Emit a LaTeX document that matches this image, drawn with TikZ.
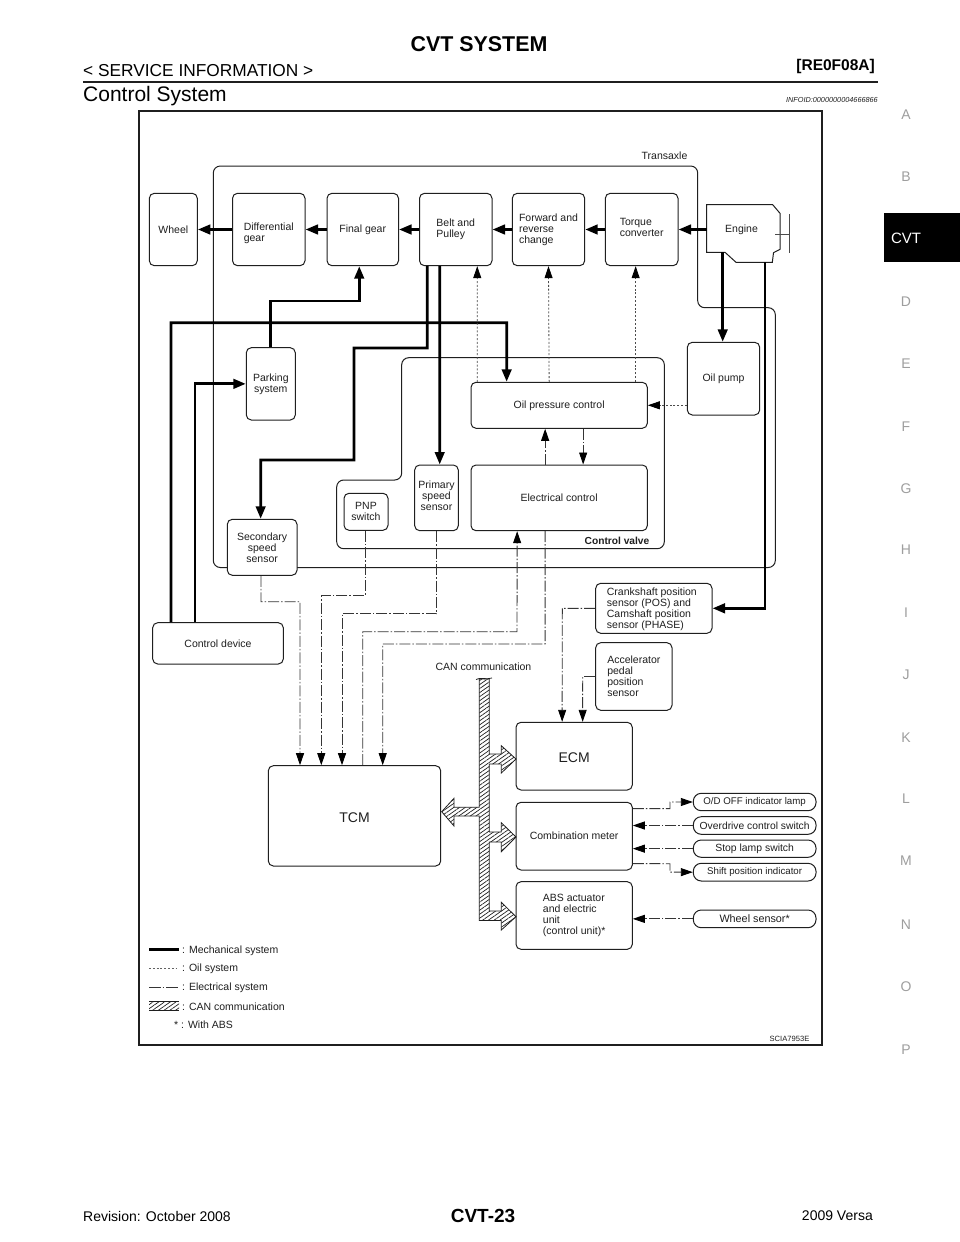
\documentclass[tikz,border=0pt]{standalone}
\usepackage{fontspec}
\setmainfont{Liberation Sans}
\usetikzlibrary{arrows.meta,patterns,patterns.meta}
\definecolor{ink}{gray}{0.12}
\definecolor{tabgray}{gray}{0.62}
\tikzset{
  x=1pt,y=-1pt,
  box/.style={draw=ink,line width=1pt,rounded corners=5pt,fill=white,align=center,inner sep=0pt,font=\fontsize{10.5}{11}\selectfont,text=ink},
  lbox/.style={box,align=left},
  pill/.style={box,rounded corners=8pt,font=\fontsize{9.7}{11}\selectfont},
  bigbox/.style={box,font=\fontsize{14}{16}\selectfont},
  boxtext/.style={inner sep=0pt,text=ink,font=\fontsize{10.5}{11}\selectfont,align=left},
  mech/.style={draw=black,line width=2.8pt,-{Triangle[length=12.5pt,width=9.5pt]}},
  mechplain/.style={draw=black,line width=2.8pt},
  oil/.style={draw=ink!80,line width=0.8pt,dash pattern=on 2pt off 1.8pt,-{Triangle[length=12pt,width=8pt,color=black]}},
  elec/.style={draw=ink!90,line width=0.9pt,dash pattern=on 11pt off 2pt on 1.5pt off 2pt,-{Triangle[length=12pt,width=8pt,color=black]}},
  elecplain/.style={draw=ink!90,line width=0.9pt,dash pattern=on 11pt off 2pt on 1.5pt off 2pt},
  canfill/.style={draw=ink,line width=0.8pt,pattern={Lines[angle=35,distance=3.3pt,line width=0.7pt]},pattern color=ink},
  txt/.style={inner sep=0pt,text=ink,font=\fontsize{10.5}{11}\selectfont,align=left},
  tabletter/.style={inner sep=0pt,text=tabgray,font=\fontsize{14}{16}\selectfont},
}
\newcommand{\bx}[6][box]{\node[#1,minimum width=#5-#3,minimum height=#6-#4] (#2) at ({(#3+#5)/2},{(#4+#6)/2})}
\begin{document}
\begin{tikzpicture}
\useasboundingbox (0,0) rectangle (960,1242);
\fill[white] (0,0) rectangle (960,1242);
% page header
\node[inner sep=0pt,font=\bfseries\fontsize{21.4}{23}\selectfont] (title) at (479,44) {CVT SYSTEM};
\node[inner sep=0pt,anchor=west,font=\fontsize{17.3}{19}\selectfont] (sect) at (83,70.5) {< SERVICE INFORMATION >};
\node[inner sep=0pt,anchor=east,font=\bfseries\fontsize{15.5}{18}\selectfont] (code) at (875,66.5) {[RE0F08A]};
\draw[line width=2.6pt,ink] (83,82) -- (878,82);
\node[inner sep=0pt,anchor=west,font=\fontsize{21}{24}\selectfont] (head) at (83,96.5) {Control System};
\node[inner sep=0pt,anchor=east,font=\itshape\fontsize{7.3}{9}\selectfont,text=ink] (info) at (878,100) {INFOID:0000000004666866};
% side tabs
\foreach \l/\y in {A/115,B/177,D/302,E/364,F/427,G/489,H/550,I/613,J/675,K/738,L/799,M/861,N/925,O/987,P/1050}
  \node[tabletter] (tab\l) at (906,\y) {\l};
\fill[black] (884,213) rectangle (960,262);
\node[inner sep=0pt,text=white,font=\fontsize{15}{17}\selectfont] (tabcvt) at (906,238) {CVT};
% footer
\node[inner sep=0pt,anchor=west,font=\fontsize{14}{16}\selectfont] (rev) at (83,1216) {Revision: October 2008};
\node[inner sep=0pt,font=\bfseries\fontsize{19}{21}\selectfont] (page) at (483,1216) {CVT-23};
\node[inner sep=0pt,anchor=east,font=\fontsize{14}{16}\selectfont] (ver) at (873,1216) {2009 Versa};
% frame
\draw[line width=1.6pt,ink] (139,111) rectangle (822,1045);
% enclosures
\draw[line width=1pt,ink,rounded corners=7pt] (230,567.5) -- (213.3,567.5) -- (213.3,166) -- (697.7,166) -- (697.7,307.7) -- (775.3,307.7) -- (775.3,567.5) -- cycle;
\draw[line width=1pt,ink,rounded corners=7pt] (336.7,548.7) -- (664.3,548.7) -- (664.3,357.7) -- (401.7,357.7) -- (401.7,480) -- (336.7,480) -- cycle;
\node[txt] (transaxle) at (664.5,156) {Transaxle};
\node[txt,font=\bfseries\fontsize{10.2}{11}\selectfont] (cv) at (617,540.5) {Control valve};
% boxes
\bx{wheel}{149.3}{193.3}{197.3}{265.7} {Wheel};
\bx[box,label={[boxtext,yshift=-3.5pt]center:{Differential\\gear}}]{diff}{232.5}{193.3}{305}{265.7} {};
\bx{final}{327}{193.3}{398.5}{265.7} {Final gear};
\bx[lbox]{belt}{419.5}{193.3}{492}{265.7} {Belt and\\Pulley};
\bx[lbox]{fwd}{512.3}{193.3}{584.7}{265.7} {Forward and\\reverse\\change};
\bx[box,label={[boxtext,yshift=2.5pt]center:{Torque\\converter}}]{torque}{605.3}{193.3}{678}{265.7} {};
\bx{park}{246.3}{347.7}{295.3}{420} {Parking\\system};
\bx{pump}{687.3}{342.3}{759.7}{415} {Oil pump};
\bx{opc}{471}{382.3}{647.3}{428.3} {Oil pressure control};
\bx{ectl}{471}{465}{647.3}{530.7} {Electrical control};
\bx[box,label={[boxtext,align=center,yshift=2pt]center:{Primary\\speed\\sensor}}]{prim}{414.7}{465}{458.3}{530.7} {};
\bx{pnp}{344}{493.3}{388}{530.3} {PNP\\switch};
\bx{sec}{227.3}{519.3}{297}{575.3} {Secondary\\speed\\sensor};
\bx{cdev}{152.7}{622.7}{283.3}{664} {Control device};
\bx[box,label={[boxtext,yshift=-1pt,xshift=-2pt]center:{Crankshaft position\\sensor (POS) and\\Camshaft position\\sensor (PHASE)}}]{crank}{595.7}{583.3}{712}{633.3} {};
\bx[lbox]{accel}{595.7}{642.7}{672}{710.3} {Accelerator\\pedal\\position\\sensor};
\bx[bigbox,label={[inner sep=0pt,text=ink,font=\fontsize{14}{16}\selectfont,yshift=-1.5pt]center:ECM}]{ecm}{516}{722.3}{632.3}{790} {};
\bx{comb}{516}{802.3}{632.3}{870} {Combination meter};
\bx[lbox]{abs}{516}{881.7}{632.3}{949.3} {ABS actuator\\and electric\\unit\\(control unit)*};
\bx[bigbox,label={[inner sep=0pt,text=ink,font=\fontsize{14}{16}\selectfont,yshift=-1.5pt]center:TCM}]{tcm}{268.3}{765.7}{440.7}{866} {};
\bx[pill]{odl}{693.3}{793.3}{816}{810.7} {O/D OFF indicator lamp};
\bx[pill,font=\fontsize{10.3}{11}\selectfont]{ovr}{693.3}{816.7}{816}{834.3} {Overdrive control switch};
\bx[pill,font=\fontsize{10.4}{11}\selectfont]{stp}{693.3}{840}{816}{857.3} {Stop lamp switch};
\bx[pill]{shf}{693.3}{863.3}{816}{881} {Shift position indicator};
\bx[pill,font=\fontsize{10.8}{11}\selectfont]{wsn}{693.3}{910}{816}{927.7} {Wheel sensor*};
% engine
\draw[line width=1pt,ink,fill=white] (706.7,204.7) -- (772.7,204.7) -- (780,213.3) -- (780,249.3) -- (773.5,252.7) -- (772.3,262.3) -- (736,262.3) -- (725,252.3) -- (706.7,252.3) -- cycle;
\node[txt] (engine) at (741.5,229.5) {Engine};
\coordinate (engE) at (706.7,229.5);
\coordinate (engPump) at (722.7,252.3);
\coordinate (engCrank) at (765,262.3);
\draw[line width=0.8pt,ink!80] (789.3,214) -- (789.3,253);
\draw[line width=0.8pt,ink!80] (775,234) -- (789.3,234);
% mechanical connectors
\draw[mech] (diff.west) -- (wheel.east);
\draw[mech] (final.west) -- (diff.east);
\draw[mech] (belt.west) -- (final.east);
\draw[mech] (fwd.west) -- (belt.east);
\draw[mech] (torque.west) -- (fwd.east);
\draw[mech] (engE) -- (torque.east);
\draw[mech] (engPump) -- ([xshift=-0.8pt]pump.north);
\draw[mech] (engCrank) |- (crank.east);
\draw[mech] (park.north) -- (270.8,301) -| ([xshift=-3.5pt]final.south);
\draw[mech] ([xshift=-47pt]cdev.north) |- (506.7,322.7) -- ([xshift=-52.5pt]opc.north);
\draw[mech] ([xshift=-23pt]cdev.north) |- (park.west);
\draw[mech] ([xshift=-28.5pt]belt.south) -- (427.3,348) -- (354,348) -- (354,460) -- (260.7,460) -- ([xshift=-1.5pt]sec.north);
\draw[mech] ([xshift=-16pt]belt.south) -- ([xshift=3.2pt]prim.north);
% oil connectors
\draw[oil] ([xshift=-82pt]opc.north) -- ([xshift=21.5pt]belt.south);
\draw[oil] ([xshift=-10pt]opc.north) -- (fwd.south);
\draw[oil] ([xshift=76.5pt]opc.north) -- ([xshift=-6pt]torque.south);
\draw[oil] (pump.west |- opc.east) -- (opc.east);
% oil pressure control <-> electrical control
\draw[elec] ([xshift=-14pt]ectl.north) -- ([xshift=-14pt]opc.south);
\draw[elec] ([xshift=24pt]opc.south) -- ([xshift=24pt]ectl.north);
% electrical connectors
\draw[elec] ([xshift=-1.2pt]sec.south) -- (261,601.7) -- (300,601.7) -- ([xshift=-54.5pt]tcm.north);
\draw[elec] ([xshift=-1pt]pnp.south) -- (365,595.7) -- (321.3,595.7) -- ([xshift=-33.2pt]tcm.north);
\draw[elec] (prim.south) -- (436.5,613.7) -- (342,613.7) -- ([xshift=-12.5pt]tcm.north);
\draw[elec] ([xshift=8.2pt]tcm.north) -- (362.7,631.7) -- (517,631.7) -- ([xshift=-42pt]ectl.south);
\draw[elec] ([xshift=-14pt]ectl.south) -- (545.1,644) -- (382.7,644) -- ([xshift=28.2pt]tcm.north);
\draw[elec] (crank.west) -- (562.3,608.3) -- ([xshift=-12pt]ecm.north);
\draw[elec] (accel.west) -- (582.7,676.5) -- ([xshift=8.5pt]ecm.north);
\draw[elec] ([yshift=27.5pt]comb.east) -- (670,808.6) -- (670,802) -- (odl.west);
\draw[elec] (ovr.west) -- (comb.east |- ovr.west);
\draw[elec] (stp.west) -- (comb.east |- stp.west);
\draw[elec] ([yshift=-27.5pt]comb.east) -- (670,863.7) -- (670,872.1) -- (shf.west);
\draw[elec] (wsn.west) -- (abs.east |- wsn.west);
% CAN bus
\draw[canfill] (479.3,679) -- (489.3,679) -- (489.3,754) -- (501.3,754) -- (501.3,745.7) -- (516,759) -- (501.3,773) -- (501.3,764) -- (489.3,764) -- (489.3,832) -- (501.3,832) -- (501.3,822.7) -- (516,837) -- (501.3,851.7) -- (501.3,842) -- (489.3,842) -- (489.3,911) -- (501.3,911) -- (501.3,902.3) -- (516,916.7) -- (501.3,930) -- (501.3,920.5) -- (479.3,920.5) -- (479.3,816) -- (454,816) -- (454,826) -- (441.7,811.7) -- (454,798.3) -- (454,807.3) -- (479.3,807.3) -- cycle;
\draw[line width=0.8pt,ink] (476,679.5) .. controls (480,677) and (486,680) .. (492,678);
\node[txt] (canlbl) at (483.5,667) {CAN communication};
% legend
\coordinate (l1a) at (149,949.5); \coordinate (l1b) at (179,949.5);
\draw[mechplain,line width=2.4pt] (l1a) -- (l1b);
\coordinate (l2a) at (149,968); \coordinate (l2b) at (177,968);
\draw[draw=ink!70,line width=0.6pt,dash pattern=on 2pt off 1.8pt] (l2a) -- (l2b);
\coordinate (l3a) at (149,987); \coordinate (l3b) at (178,987);
\draw[elecplain,dash pattern=on 11.5pt off 2pt on 1.5pt off 2pt] (l3a) -- (l3b);
\path[canfill,draw=none] (149,1001) rectangle (179,1010);
\draw[line width=0.8pt,ink] (149,1010) -- (179,1010);
\draw[line width=0.8pt,ink] (149,1001) -- (179,1001);
\node[txt,anchor=west] (lg1) at (182,950.5) {: Mechanical system};
\node[txt,anchor=west] (lg2) at (182,969) {: Oil system};
\node[txt,anchor=west] (lg3) at (182,988) {: Electrical system};
\node[txt,anchor=west] (lg4) at (182,1006.5) {: CAN communication};
\node[txt,anchor=west] (lg5) at (174,1025) {* : With ABS};
\node[txt,font=\fontsize{7.6}{9}\selectfont] (sc) at (789.5,1039) {SCIA7953E};
\end{tikzpicture}
\end{document}
